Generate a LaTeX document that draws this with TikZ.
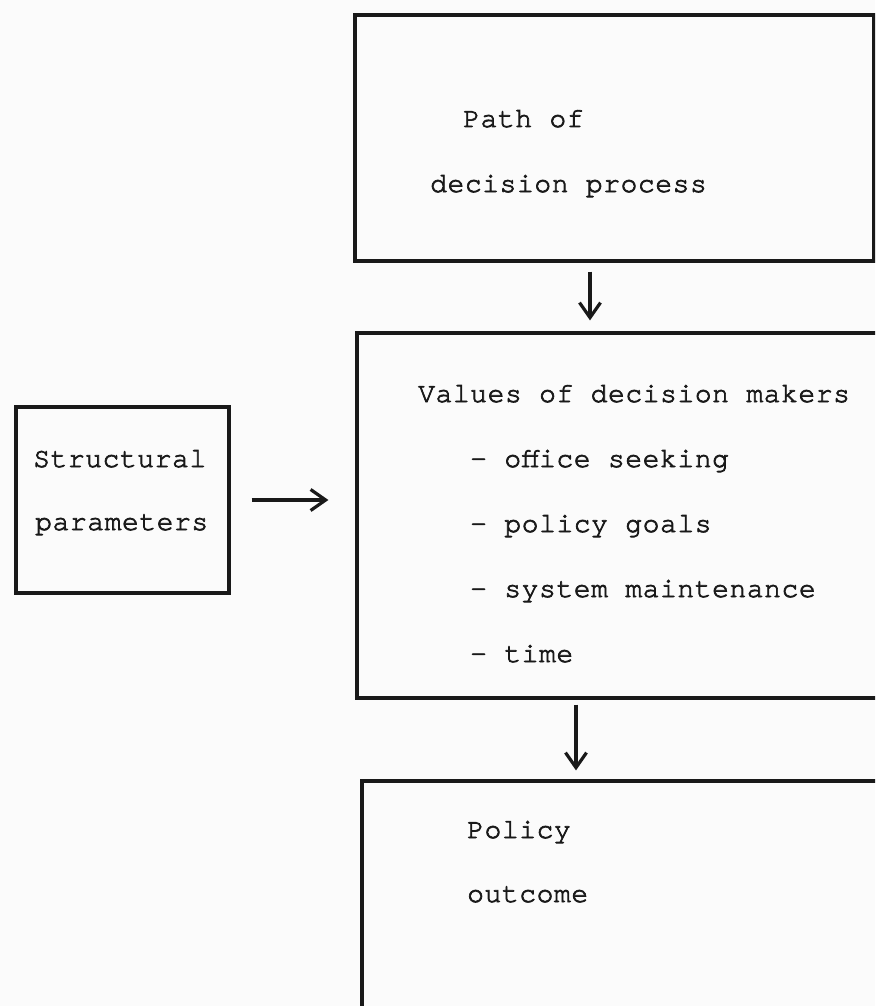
\documentclass[tikz,border=0pt]{standalone}
\usepackage{fontspec}
\usetikzlibrary{arrows.meta}
\newfontfamily\typewriter{texgyrecursor-regular.otf}[LetterSpace=2,FakeBold=2.5]
\begin{document}
\begin{tikzpicture}[x=1pt,y=-1pt,
  frame/.style={draw=black!90, line width=3.2pt, inner sep=0pt},
  label/.style={anchor=base west, inner sep=0pt, text=black!90,
    font=\typewriter\fontsize{28}{28}\selectfont},
  flow/.style={draw=black!90, line width=3.2pt,
    -{Straight Barb[length=15pt,width=21pt,line width=3.2pt]}}]
\useasboundingbox (0,0) rectangle (875,1006);
\clip (0,0) rectangle (875,1006);
\fill[white!97!gray] (0,0) rectangle (875,1006);

% boxes
\node[frame, minimum width=519pt, minimum height=246pt] (proc) at (614.5,138) {};
\node[frame, minimum width=523pt, minimum height=365pt] (vals) at (618.5,515.5) {};
\node[frame, minimum width=518pt, minimum height=234pt] (outc) at (621,898) {};
\node[frame, minimum width=213pt, minimum height=186pt] (struct) at (122.5,500) {};

% texts
\node[label] (t1) at (463,127) {Path of};
\node[label] (t2) at (430,192) {decision process};
\node[label] (v0) at (418,402) {Values of decision makers};
\node[label] (v1) at (470,467) {- office seeking};
\node[label] (v2) at (470,532) {- policy goals};
\node[label] (v3) at (470,597) {- system maintenance};
\node[label] (v4) at (470,662) {- time};
\node[label] (o1) at (467,838) {Policy};
\node[label] (o2) at (467,902) {outcome};
\node[label] (s1) at (33,467) {Structural};
\node[label] (s2) at (35,530) {parameters};

% connectors
\coordinate (c1) at (590,0);
\coordinate (c2) at (576,0);
\draw[flow, shorten <=9pt, shorten >=11pt] (proc.south -| c1) -- (vals.north -| c1);
\draw[flow, shorten <=5pt, shorten >=9pt] (vals.south -| c2) -- (outc.north -| c2);
\draw[flow, shorten <=21pt, shorten >=27pt] (struct.east) -- (struct.east -| vals.west);
\end{tikzpicture}
\end{document}
